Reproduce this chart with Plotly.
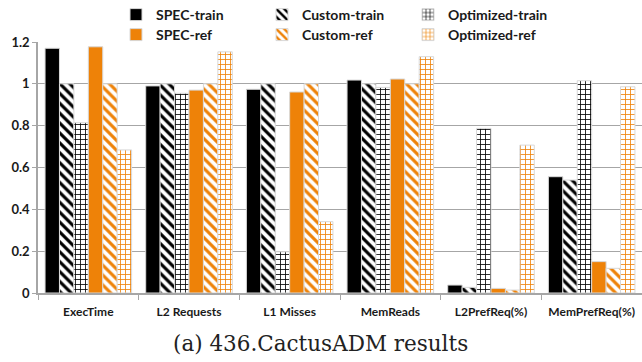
import plotly.graph_objects as go

categories = ["ExecTime", "L2 Requests", "L1 Misses", "MemReads", "L2PrefReq(%)", "MemPrefReq(%)"]
spec_train = [1.17, 0.99, 0.974, 1.018, 0.038, 0.556]
custom_train = [1.0, 1.0, 1.0, 1.0, 0.027, 0.54]
opt_train = [0.814, 0.955, 0.197, 0.983, 0.787, 1.015]
spec_ref = [1.177, 0.97, 0.961, 1.023, 0.022, 0.15]
custom_ref = [1.0, 1.0, 1.0, 1.0, 0.014, 0.118]
opt_ref = [0.684, 1.153, 0.341, 1.13, 0.707, 0.986]
y_ticks = [0, 0.2, 0.4, 0.6, 0.8, 1, 1.2]
y_labels = ["0", "0.2", "0.4", "0.6", "0.8", "1", "1.2"]

BLACK = "#000000"
ORANGE = "#EE8208"
EDGE = "#D8D8D8"
FONT = "Lato"

series = [
    ("SPEC-train", spec_train, BLACK, "", "legend"),
    ("Custom-train", custom_train, BLACK, "\\", "legend"),
    ("Optimized-train", opt_train, BLACK, "+", "legend"),
    ("SPEC-ref", spec_ref, ORANGE, "", "legend2"),
    ("Custom-ref", custom_ref, ORANGE, "\\", "legend2"),
    ("Optimized-ref", opt_ref, ORANGE, "+", "legend2"),
]

fig = go.Figure()
for name, vals, col, shape, lg in series:
    if shape == "":
        marker = dict(color=col, line=dict(color=EDGE, width=1))
    elif shape == "\\":
        marker = dict(color="white", line=dict(color=EDGE, width=1),
                      pattern=dict(shape="\\", fgcolor=col, bgcolor="white",
                                   size=7, solidity=0.45, fillmode="replace"))
    else:
        marker = dict(color="white", line=dict(color=EDGE, width=1),
                      pattern=dict(shape="+", fgcolor=col, bgcolor="white",
                                   size=5, solidity=0.3, fillmode="replace"))
    fig.add_trace(go.Bar(name=name, x=categories, y=vals, marker=marker, legend=lg))

PLOT_H = 251
def ypaper(py):
    return 1 + (42 - py) / PLOT_H

leg_common = dict(orientation="h", xanchor="left", yanchor="middle",
                  entrywidth=101, entrywidthmode="pixels", itemwidth=30,
                  font=dict(family=FONT, size=14, weight="bold", color="#1a1a1a"),
                  bgcolor="rgba(0,0,0,0)")
x_leg = (116 - 38) / 604

fig.update_layout(
    width=642, height=362,
    margin=dict(l=38, r=0, t=42, b=69, autoexpand=False),
    paper_bgcolor="white", plot_bgcolor="white",
    barmode="group", bargap=0.14, bargroupgap=0,
    font=dict(family=FONT, color="#1a1a1a"),
    legend=dict(x=x_leg, y=ypaper(15), **leg_common),
    legend2=dict(x=x_leg, y=ypaper(35), **leg_common),
    showlegend=True,
)
fig.update_xaxes(
    showgrid=False, showline=True, linecolor="#A6A6A6", linewidth=1.5,
    ticks="outside", tickson="boundaries", ticklen=5, tickcolor="#A6A6A6",
    tickfont=dict(family=FONT, size=12, weight="bold"), tickangle=0,
    ticklabelstandoff=7,
    range=[-0.5, 5.5],
)
fig.update_yaxes(
    range=[0, 1.2], tickvals=y_ticks, ticktext=y_labels,
    showgrid=True, gridcolor="#A6A6A6", gridwidth=1,
    showline=True, linecolor="#A6A6A6", linewidth=1.5,
    ticks="outside", ticklen=4, tickcolor="#A6A6A6",
    tickfont=dict(family=FONT, size=13, weight="bold"),
    zeroline=False,
)
fig.add_annotation(
    text="(a) 436.CactusADM results", xref="paper", yref="paper",
    x=(320 - 38) / 604, y=ypaper(343), xanchor="center", yanchor="middle",
    showarrow=False, font=dict(family="DejaVu Serif", size=21.5, color="#222"),
)
fig.write_html("out.html", config={"displayModeBar": False},
               post_script="document.body.style.margin='0';document.body.style.overflow='hidden';")
